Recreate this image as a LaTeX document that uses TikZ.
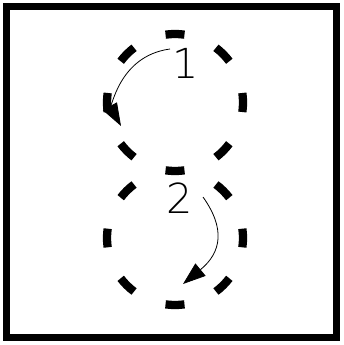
\documentclass[tikz,border=0pt]{standalone}
\usepackage{fontspec}
\newfontfamily\thinsans{DejaVu Sans ExtraLight}
\usetikzlibrary{arrows.meta}

\tikzset{every picture/.style={line width=0.75pt}}
\tikzset{
  ovaldash/.style={line width=6.2pt},
  turnline/.style={line width=0.6pt,-{Triangle[length=17pt,width=12pt]}},
  digit/.style={inner sep=0pt,font=\thinsans\fontsize{31}{31}\selectfont}
}

\begin{document}
\begin{tikzpicture}[x=0.75pt,y=0.75pt,yscale=-1,xscale=1]
\path[use as bounding box] (0,0) rectangle (343,345);

%Frame
\draw [line width=5.5pt] (6.5,6.5) rectangle (336.5,337.5);

%Dashed oval, upper
\foreach \a in {0,45,...,315}
  \draw [ovaldash] (175,102.5) ++(\a-8:68 and 68.5)
    arc [start angle=\a-8, end angle=\a+8, x radius=68, y radius=68.5];
%Dashed oval, lower (its top dash is shared with the upper one)
\foreach \a in {0,45,90,135,180,225,315}
  \draw [ovaldash] (175,238) ++(\a-8:68 and 67)
    arc [start angle=\a-8, end angle=\a+8, x radius=68, y radius=67];

% Text Node
\node [digit] (one) at (186,63) {1};
% Text Node
\node [digit] (two) at (180,198) {2};

%Curve Lines
\coordinate (s1) at (170,49);
\coordinate (e1) at (121,126);
\draw [turnline] (s1) .. controls (118,56) and (112,110) .. (e1);
%Curve Lines
\coordinate (s2) at (203,197);
\coordinate (e2) at (183,284);
\draw [turnline] (s2) .. controls (225,228) and (222,252) .. (e2);

\end{tikzpicture}
\end{document}
